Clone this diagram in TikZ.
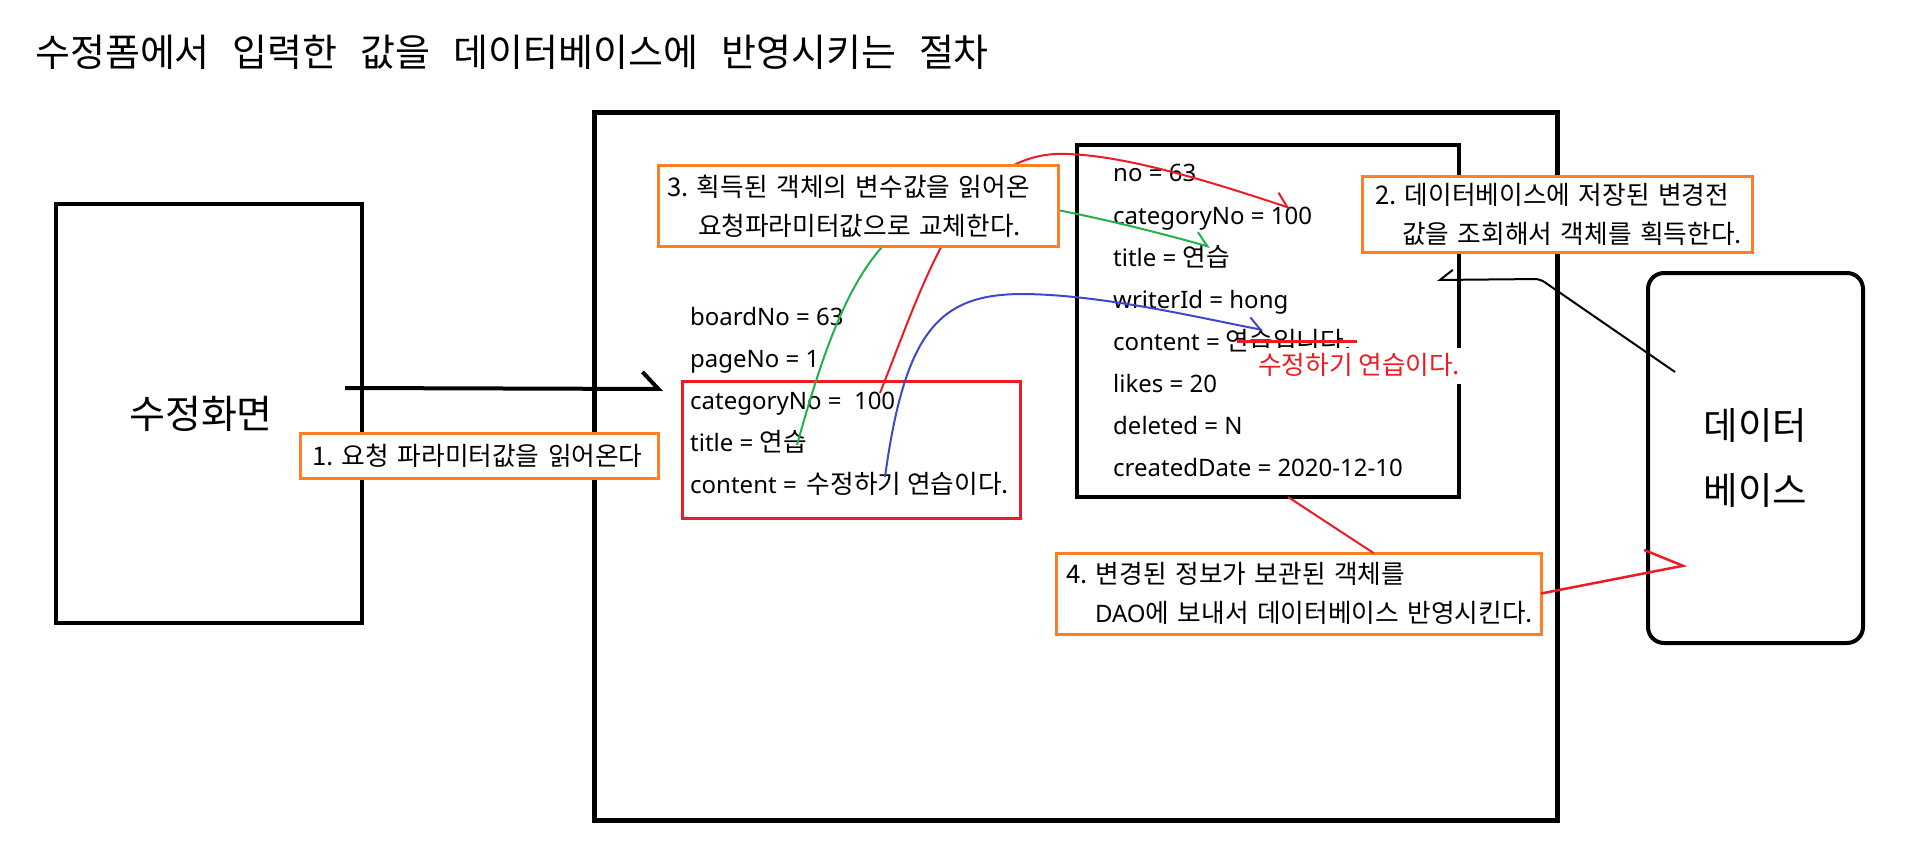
\documentclass[tikz,border=0pt]{standalone}
\usepackage{fontspec}
\setmainfont{Noto Sans}
\newfontfamily\kr{Noto Sans CJK KR}[Scale=1.07]
\newcommand\titlefont{\kr\fontsize{35.5}{42}\selectfont\spaceskip 23pt\relax}
\usepackage{tikz}
\usetikzlibrary{arrows.meta,positioning,calc}
\definecolor{paintorange}{HTML}{FF7F27}
\definecolor{paintred}{HTML}{ED1C24}
\definecolor{paintgreen}{HTML}{22B14C}
\definecolor{paintblue}{HTML}{3F48CC}
\frenchspacing
\tikzset{
  frame/.style={draw, line width=4pt, inner sep=0pt, outer sep=0pt},
  obox/.style={draw=paintorange, line width=3pt, fill=white, align=left, anchor=north west,
    outer sep=0pt, inner ysep=0pt, font=\kr\fontsize{24}{39}\selectfont},
  field/.style={anchor=west, inner sep=0pt, text height=17pt, text depth=1pt,
    font=\fontsize{24}{29}\selectfont},
}

\begin{document}
\begin{tikzpicture}[x=1pt, y=-1pt]
\useasboundingbox (0,0) rectangle (1905,861);
\node[anchor=west, inner sep=0pt, font=\titlefont] (title) at (35,52) {수정폼에서 입력한 값을 데이터베이스에 반영시키는 절차};

\node[frame, minimum width=306pt, minimum height=419pt, font=\kr\fontsize{36.5}{44}\selectfont] (screen) at (209,413.5) {수정화면\hspace*{16pt}};
\node[frame, line width=5pt, minimum width=963pt, minimum height=707pt] (main) at (1075.5,466.5) {};
\node[frame, minimum width=382pt, minimum height=352pt] (obj) at (1268,321) {};
\node[frame, rounded corners=16pt, minimum width=215pt, minimum height=370pt, align=center,
  font=\kr\fontsize{35}{65}\selectfont] (db) at (1755.5,458) {데이터\\베이스};
\node[draw=paintred, line width=3pt, inner sep=0pt, minimum width=338pt, minimum height=137pt] (req) at (851,449.5) {};

\foreach \i/\t in {0/boardNo = 63, 1/pageNo = 1, 2/categoryNo = \ 100, 3/title = {\kr 연습}, 4/content = \,{\kr 수정하기 연습이다.}}
  \node[field] (p\i) at (690,317+42*\i) {\t};
\foreach \i/\t in {0/no = 63, 1/categoryNo = 100, 2/title = {\kr 연습}, 3/writerId = hong, 4/content = {\kr 연습입니다.}, 5/likes = 20, 6/deleted = N, 7/createdDate = 2020-12-10}
  \node[field] (f\i) at (1113,174+42*\i) {\t};

\coordinate (s0) at (1237,341);
\coordinate (s1) at (1357,341);
\draw[paintred, line width=3pt] (s0) -- (s1);
\node[field, fill=white, text=paintred, inner xsep=5pt, inner ysep=9pt, font=\kr\fontsize{24}{29}\selectfont] (newval) at (1253,366) {수정하기 연습이다.};

\coordinate (a0) at (345,388);
\coordinate (a1) at (663,389);
\draw[line width=4pt, -{Straight Barb[left, length=16pt, width=34pt]}] (a0) -- (a1);

\coordinate (r0) at (880,393);
\coordinate (r1) at (1290,208);
\draw[paintred, line width=2pt, -{Straight Barb[left, length=13pt, width=22pt]}] (r0) .. controls (925,280) and (960,160) .. (1055,154) .. controls (1120,152) and (1220,185) .. (r1);
\coordinate (g0) at (797,445);
\coordinate (g1) at (1210,247);
\draw[paintgreen, line width=2pt, -{Straight Barb[left, length=13pt, width=22pt]}] (g0) .. controls (840,290) and (880,200) .. (990,200) .. controls (1050,205) and (1150,230) .. (g1);
\coordinate (b0) at (885,477);
\coordinate (b1) at (1263,330);
\draw[paintblue, line width=2pt, -{Straight Barb[left, length=12pt, width=20pt]}] (b0) .. controls (905,330) and (940,295) .. (1020,294) .. controls (1100,294) and (1200,318) .. (b1);

\coordinate (d0) at (1675,372);
\coordinate (d1) at (1437,280);
\draw[line width=2pt, rounded corners=5pt, -{Straight Barb[right, length=13pt, width=20pt]}] (d0) -- (1540,279) -- (d1);

\node[obox, minimum width=358pt, minimum height=45pt, inner xsep=12pt, text width=334pt] (step1) at (300,433) {1.~요청~파라미터값을~읽어온다};
\node[obox, minimum width=390pt, minimum height=75pt, inner xsep=13pt, text width=364pt] (step2) at (1362,177) {2.~데이터베이스에~저장된~변경전\\\hspace*{27pt}값을~조회해서~객체를~획득한다.};
\node[obox, minimum width=400pt, minimum height=80pt, inner xsep=9pt, text width=382pt] (step3) at (658,166) {3.~획득된~객체의~변수값을~읽어온\\\hspace*{31pt}요청파라미터값으로~교체한다.};
\node[obox, minimum width=485pt, minimum height=81pt, inner xsep=10pt, text width=465pt] (step4) at (1056,553) {4.~변경된~정보가~보관된~객체를\\\hspace*{29pt}{\rmfamily DAO}에~보내서~데이터베이스~반영시킨다.};

\draw[paintred, line width=2pt] ([xshift=20pt]obj.south) -- ([xshift=75pt]step4.north);
\coordinate (d2) at (1687,565);
\draw[paintred, line width=2.5pt, -{Straight Barb[left, length=35pt, width=46pt]}] (step4.east) -- (d2);
\end{tikzpicture}
\end{document}
